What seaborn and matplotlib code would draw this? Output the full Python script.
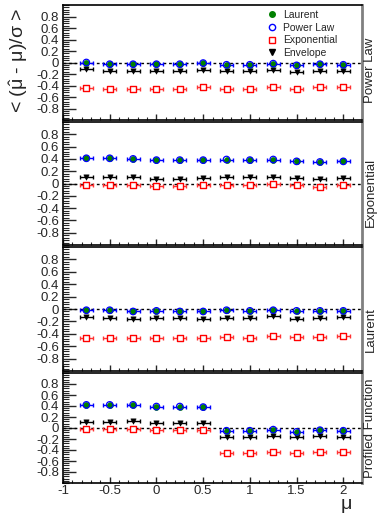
import numpy as np
import pandas as pd
import matplotlib
matplotlib.use("Agg")
import matplotlib.pyplot as plt
from matplotlib.lines import Line2D
from matplotlib.ticker import MultipleLocator
import seaborn as sns

# ---------------- data ----------------
mu = [-0.75, -0.5, -0.25, 0.0, 0.25, 0.5, 0.75, 1.0, 1.25, 1.5, 1.75, 2.0]
panel_names = ["Power Law", "Exponential", "Laurent", "Profiled Function"]

laurent_pl = [0.00, -0.03, -0.03, -0.03, -0.03, -0.01, -0.04, -0.04, -0.02, -0.05, -0.03, -0.04]
powerlaw_pl = [0.00, -0.03, -0.03, -0.03, -0.03, -0.01, -0.04, -0.04, -0.02, -0.05, -0.03, -0.04]
expo_pl = [-0.44, -0.46, -0.46, -0.46, -0.46, -0.43, -0.46, -0.46, -0.43, -0.46, -0.43, -0.43]
env_pl = [-0.12, -0.14, -0.15, -0.15, -0.15, -0.13, -0.15, -0.15, -0.13, -0.16, -0.14, -0.14]

laurent_ex = [0.41, 0.41, 0.40, 0.38, 0.38, 0.38, 0.39, 0.38, 0.39, 0.36, 0.35, 0.36]
powerlaw_ex = [0.41, 0.41, 0.40, 0.38, 0.38, 0.38, 0.39, 0.38, 0.39, 0.36, 0.35, 0.36]
expo_ex = [-0.03, -0.02, -0.03, -0.04, -0.04, -0.03, -0.02, -0.03, -0.01, -0.03, -0.05, -0.02]
env_ex = [0.10, 0.10, 0.11, 0.08, 0.07, 0.09, 0.10, 0.10, 0.11, 0.09, 0.08, 0.09]

laurent_la = [-0.02, -0.02, -0.04, -0.03, -0.04, -0.04, -0.02, -0.03, -0.02, -0.03, -0.03, -0.03]
powerlaw_la = [-0.02, -0.02, -0.04, -0.03, -0.04, -0.04, -0.02, -0.03, -0.02, -0.03, -0.03, -0.03]
expo_la = [-0.46, -0.46, -0.47, -0.47, -0.47, -0.47, -0.45, -0.46, -0.43, -0.45, -0.45, -0.43]
env_la = [-0.13, -0.14, -0.16, -0.15, -0.15, -0.16, -0.15, -0.15, -0.12, -0.16, -0.15, -0.13]

laurent_pf = [0.42, 0.42, 0.42, 0.39, 0.39, 0.38, -0.05, -0.05, -0.03, -0.07, -0.04, -0.05]
powerlaw_pf = [0.42, 0.42, 0.42, 0.39, 0.39, 0.38, -0.05, -0.05, -0.03, -0.07, -0.04, -0.05]
expo_pf = [-0.02, -0.02, -0.02, -0.04, -0.04, -0.04, -0.46, -0.46, -0.43, -0.45, -0.43, -0.43]
env_pf = [0.11, 0.11, 0.12, 0.10, 0.09, 0.09, -0.16, -0.16, -0.14, -0.17, -0.15, -0.16]

series = {
    "Power Law": (laurent_pl, powerlaw_pl, expo_pl, env_pl),
    "Exponential": (laurent_ex, powerlaw_ex, expo_ex, env_ex),
    "Laurent": (laurent_la, powerlaw_la, expo_la, env_la),
    "Profiled Function": (laurent_pf, powerlaw_pf, expo_pf, env_pf),
}
x_err = 0.07

# ---------------- style ----------------
sns.set_style("ticks")
plt.rcParams["font.family"] = ["Liberation Sans", "DejaVu Sans"]
plt.rcParams["mathtext.fontset"] = "custom"
plt.rcParams["mathtext.rm"] = "Liberation Sans"
plt.rcParams["mathtext.it"] = "Liberation Sans:italic"

fig = plt.figure(figsize=(3.78, 5.14), dpi=100)
left, right = 63 / 378, 362 / 378
panels_px = [(5, 120), (122, 245), (247, 371), (373, 483)]

for i, name in enumerate(panel_names):
    top, bot = panels_px[i]
    ax = fig.add_axes([left, 1 - bot / 514, right - left, (bot - top) / 514])
    la, pl, ex, en = series[name]
    df = pd.DataFrame({"mu": mu, "Laurent": la, "Power Law": pl,
                       "Exponential": ex, "Envelope": en})

    ax.axhline(0, color="black", ls=(0, (2, 2)), lw=1.0, zorder=1)

    # horizontal error bars
    ax.errorbar(df["mu"], df["Envelope"], xerr=x_err, fmt="none",
                ecolor="black", elinewidth=1.0, capsize=1.5, zorder=2)
    ax.errorbar(df["mu"], df["Exponential"], xerr=x_err, fmt="none",
                ecolor="#ff3333", elinewidth=1.0, capsize=1.5, zorder=2)
    ax.errorbar(df["mu"], df["Power Law"], xerr=x_err, fmt="none",
                ecolor="#0000ff", elinewidth=1.0, capsize=1.5, zorder=2)

    sns.scatterplot(data=df, x="mu", y="Envelope", marker="v", s=14,
                    color="black", edgecolor="black", linewidth=0.5, ax=ax, zorder=3)
    sns.scatterplot(data=df, x="mu", y="Exponential", marker="s", s=22,
                    facecolor="white", edgecolor="#ff0000", linewidth=1.0, ax=ax, zorder=3)
    sns.scatterplot(data=df, x="mu", y="Laurent", marker="o", s=18,
                    color="#008000", edgecolor="#008000", linewidth=0.5, ax=ax, zorder=4)
    sns.scatterplot(data=df, x="mu", y="Power Law", marker="o", s=22,
                    facecolor="none", edgecolor="#0000ff", linewidth=0.9, ax=ax, zorder=5)

    ax.set_xlim(-1, 2.2)
    ax.set_ylim(-1, 1)
    ax.set_xlabel("")
    ax.set_ylabel("")
    ax.yaxis.set_minor_locator(MultipleLocator(0.04))
    ax.xaxis.set_minor_locator(MultipleLocator(0.1))
    yt = np.round(np.arange(-0.8, 0.81, 0.2), 1)
    ax.set_yticks(yt)
    ax.set_yticklabels(["0" if abs(v) < 1e-9 else f"{v:g}" for v in yt])
    ax.set_xticks([-1, -0.5, 0, 0.5, 1, 1.5, 2])
    ax.tick_params(axis="y", which="major", direction="in", length=9, width=1.0,
                   labelsize=9.5, pad=3, right=False)
    ax.tick_params(axis="y", which="minor", direction="in", length=4.5, width=0.8, right=False)
    ax.tick_params(axis="x", which="major", direction="in", length=4, width=1.0,
                   labelsize=9.5, pad=1.5, top=False)
    ax.tick_params(axis="x", which="minor", direction="in", length=2, width=0.8, top=False)
    if i < 3:
        ax.tick_params(axis="x", labelbottom=False)
    else:
        ax.set_xticklabels(["-1", "-0.5", "0", "0.5", "1", "1.5", "2"])

    for s in ["left", "top", "bottom"]:
        ax.spines[s].set_color("black")
        ax.spines[s].set_linewidth(1.2)
    ax.spines["right"].set_color("#808080")
    ax.spines["right"].set_linewidth(2)

    ax.text(1.008, 0.15 if i < 3 else 0.05, name, transform=ax.transAxes,
            rotation=90, ha="left", va="bottom", fontsize=9.5)

    if i == 0:
        handles = [
            Line2D([], [], ls="none", marker="o", ms=4, color="#008000"),
            Line2D([], [], ls="none", marker="o", ms=4.5, mfc="none", mec="#0000ff", mew=1.0),
            Line2D([], [], ls="none", marker="s", ms=4.5, mfc="none", mec="#ff0000", mew=1.0),
            Line2D([], [], ls="none", marker="v", ms=4, color="black"),
        ]
        ax.legend(handles, ["Laurent", "Power Law", "Exponential", "Envelope"],
                  loc="upper left", bbox_to_anchor=(0.66, 1.01), frameon=False,
                  fontsize=7.5, handlelength=1.0, handletextpad=0.6,
                  labelspacing=0.25, borderaxespad=0.2)

fig.text(0.05, 0.985, r"< ($\hat{\mathrm{\mu}}$ - $\mathrm{\mu}$)/$\mathrm{\sigma}$ >", rotation=90,
         ha="center", va="top", fontsize=14)
fig.text(346 / 378, 1 / 514, "μ", ha="center", va="bottom", fontsize=14)

fig.savefig("out.png", dpi=100)
